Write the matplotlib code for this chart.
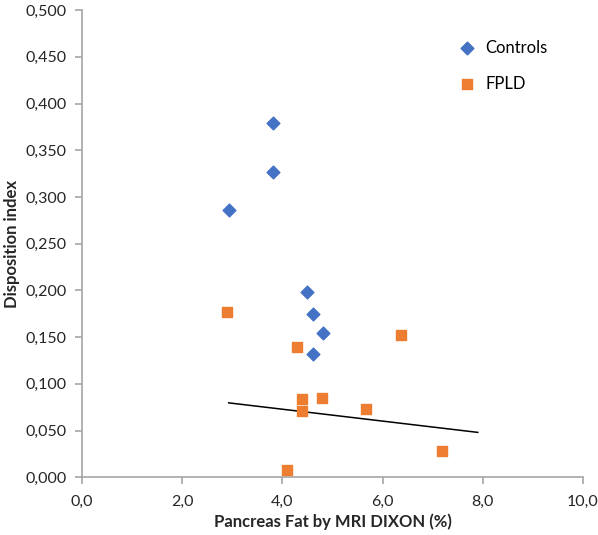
import numpy as np
import matplotlib
matplotlib.use("Agg")
import matplotlib.pyplot as plt
from matplotlib.ticker import FuncFormatter

# --- DATA ---
controls_x = [3.81, 3.81, 2.93, 4.50, 4.62, 4.82, 4.62]
controls_y = [0.379, 0.327, 0.286, 0.198, 0.175, 0.154, 0.132]

fpld_x = [2.90, 4.30, 4.39, 4.80, 4.39, 5.66, 7.18, 4.10, 6.36]
fpld_y = [0.177, 0.1395, 0.084, 0.085, 0.071, 0.073, 0.028, 0.008, 0.152]

trend_x = [2.93, 7.90]
trend_y = [0.0796, 0.048]

x_ticks = [0, 2, 4, 6, 8, 10]
y_ticks = [0.0, 0.05, 0.10, 0.15, 0.20, 0.25, 0.30, 0.35, 0.40, 0.45, 0.50]

# --- STYLE ---
plt.rcParams['font.family'] = ['Lato', 'DejaVu Sans']
axis_grey = "#a6a6a6"
blue = "#4472C4"
orange = "#ED7D31"

fig = plt.figure(figsize=(5.98, 5.35), dpi=100)
ax = fig.add_axes([0.137, 0.108, 0.838, 0.873])

ax.scatter(controls_x, controls_y, marker="D", s=42, color=blue, label="Controls", zorder=3)
ax.scatter(fpld_x, fpld_y, marker="s", s=62, color=orange, label="FPLD", zorder=3)
ax.plot(trend_x, trend_y, color="black", lw=1.1, zorder=2)

ax.set_xlim(0, 10)
ax.set_ylim(0, 0.5)
ax.set_xticks(x_ticks)
ax.set_yticks(y_ticks)
ax.xaxis.set_major_formatter(FuncFormatter(lambda v, p: f"{v:.1f}".replace(".", ",")))
ax.yaxis.set_major_formatter(FuncFormatter(lambda v, p: f"{v:.3f}".replace(".", ",")))

for side in ["top", "right"]:
    ax.spines[side].set_visible(False)
for side in ["left", "bottom"]:
    ax.spines[side].set_color(axis_grey)
    ax.spines[side].set_linewidth(1.2)
ax.tick_params(axis="both", colors=axis_grey, labelcolor="#262626", labelsize=11.5,
               direction="out", length=5, width=1.2)
ax.tick_params(axis="x", pad=8)
ax.tick_params(axis="y", pad=6)

ax.set_xlabel("Pancreas Fat by MRI DIXON (%)", fontsize=12, fontweight="bold", color="#262626")
ax.set_ylabel("Disposition index", fontsize=12, fontweight="bold", color="#262626")
ax.xaxis.set_label_coords(0.5, -0.096)
ax.yaxis.set_label_coords(-0.14, 0.5)
ax.xaxis.label.set_va("center")
ax.yaxis.label.set_va("center")

ax.legend(loc="upper left", bbox_to_anchor=(0.722, 0.951), frameon=False, fontsize=12,
          labelspacing=1.2, handletextpad=0.1, borderaxespad=0)

fig.savefig("out.png", dpi=100)
